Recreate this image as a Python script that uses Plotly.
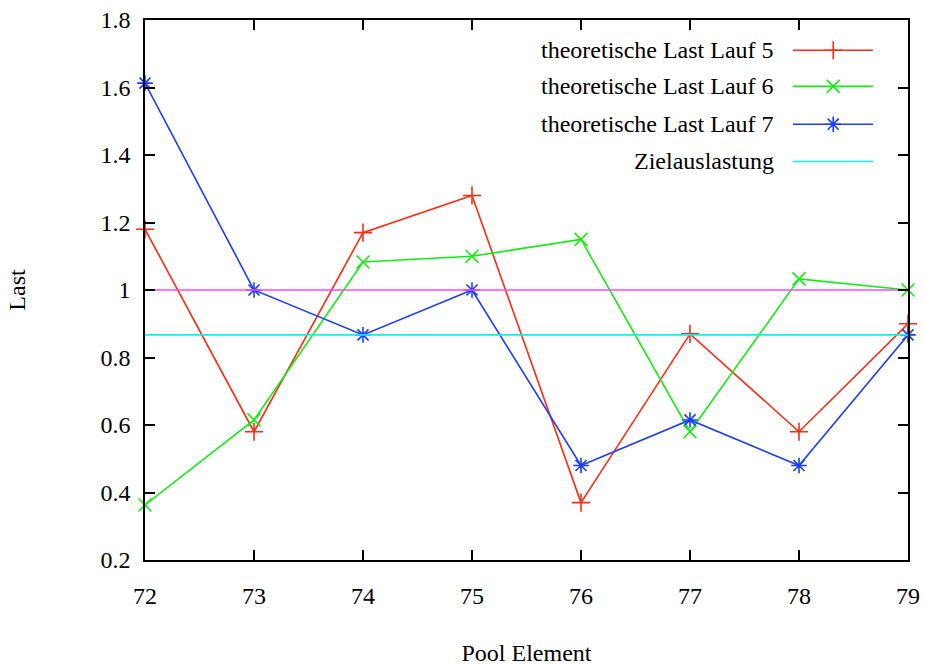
import plotly.graph_objects as go

pool = [72, 73, 74, 75, 76, 77, 78, 79]
lauf5 = [1.18, 0.58, 1.17, 1.28, 0.37, 0.87, 0.58, 0.90]
lauf6 = [0.363, 0.615, 1.083, 1.10, 1.15, 0.58, 1.033, 1.0]
lauf7 = [1.613, 1.0, 0.867, 1.0, 0.48, 0.615, 0.48, 0.867]
ziel = 0.867
ref_line = 1.0

names = ["theoretische Last Lauf 5", "theoretische Last Lauf 6",
         "theoretische Last Lauf 7", "Zielauslastung"]
colors = ["#ff2a10", "#11ee11", "#1a3cff", "#11eeee"]
symbols = ["cross-thin", "x-thin", "asterisk-open", None]
series = [lauf5, lauf6, lauf7]

FONT = "Liberation Serif, Times New Roman, serif"
fig = go.Figure()

for vals, c, s in zip(series, colors, symbols):
    fig.add_trace(go.Scatter(
        x=pool, y=vals, mode="lines+markers",
        line=dict(color=c, width=1.6),
        marker=dict(symbol=s, size=13, color=c, line=dict(color=c, width=1.6)),
        showlegend=False, cliponaxis=False))

fig.add_trace(go.Scatter(x=pool, y=[ziel] * len(pool), mode="lines",
                         line=dict(color=colors[3], width=1.6), showlegend=False))
fig.add_trace(go.Scatter(x=pool, y=[ref_line] * len(pool), mode="lines",
                         line=dict(color="#ff44ff", width=1.6), showlegend=False))

# custom legend (gnuplot style: text right, sample on the right)
leg_y = [0.944, 0.877, 0.807, 0.738]
for i, (n, c) in enumerate(zip(names, colors)):
    fig.add_trace(go.Scatter(
        x=[0.849, 0.954], y=[leg_y[i], leg_y[i]], mode="lines", xaxis="x2", yaxis="y2",
        line=dict(color=c, width=1.6), showlegend=False, hoverinfo="skip"))
    if symbols[i]:
        fig.add_trace(go.Scatter(
            x=[0.902], y=[leg_y[i]], mode="markers", xaxis="x2", yaxis="y2",
            marker=dict(symbol=symbols[i], size=13, color=c, line=dict(color=c, width=1.6)),
            showlegend=False, hoverinfo="skip"))
    fig.add_annotation(x=0.827, y=leg_y[i], xref="x2", yref="y2", text=n,
                       showarrow=False, xanchor="right", yanchor="middle",
                       font=dict(family=FONT, size=24, color="black"))

axis_common = dict(showline=True, linecolor="black", linewidth=1.5, mirror="ticks",
                   ticks="inside", ticklen=10, tickwidth=1.5, tickcolor="black",
                   showgrid=False, zeroline=False, automargin=False,
                   tickfont=dict(family=FONT, size=24, color="black"))

fig.update_layout(
    width=926, height=666,
    margin=dict(l=145, r=18, t=20, b=106),
    plot_bgcolor="white", paper_bgcolor="white",
    showlegend=False,
    xaxis=dict(range=[72, 79], tickvals=pool, ticktext=[str(p) for p in pool],
               ticklabelstandoff=13,
               title=dict(text="Pool Element", font=dict(family=FONT, size=24, color="black"),
                          standoff=37),
               **axis_common),
    yaxis=dict(range=[0.2, 1.8], dtick=0.2, tick0=0.2, ticklabelstandoff=8,
               title=dict(text="Last", font=dict(family=FONT, size=24, color="black"),
                          standoff=68),
               **axis_common),
    xaxis2=dict(range=[0, 1], overlaying="x", visible=False, fixedrange=True),
    yaxis2=dict(range=[0, 1], overlaying="y", visible=False, fixedrange=True),
)

fig.write_html("out.html")
